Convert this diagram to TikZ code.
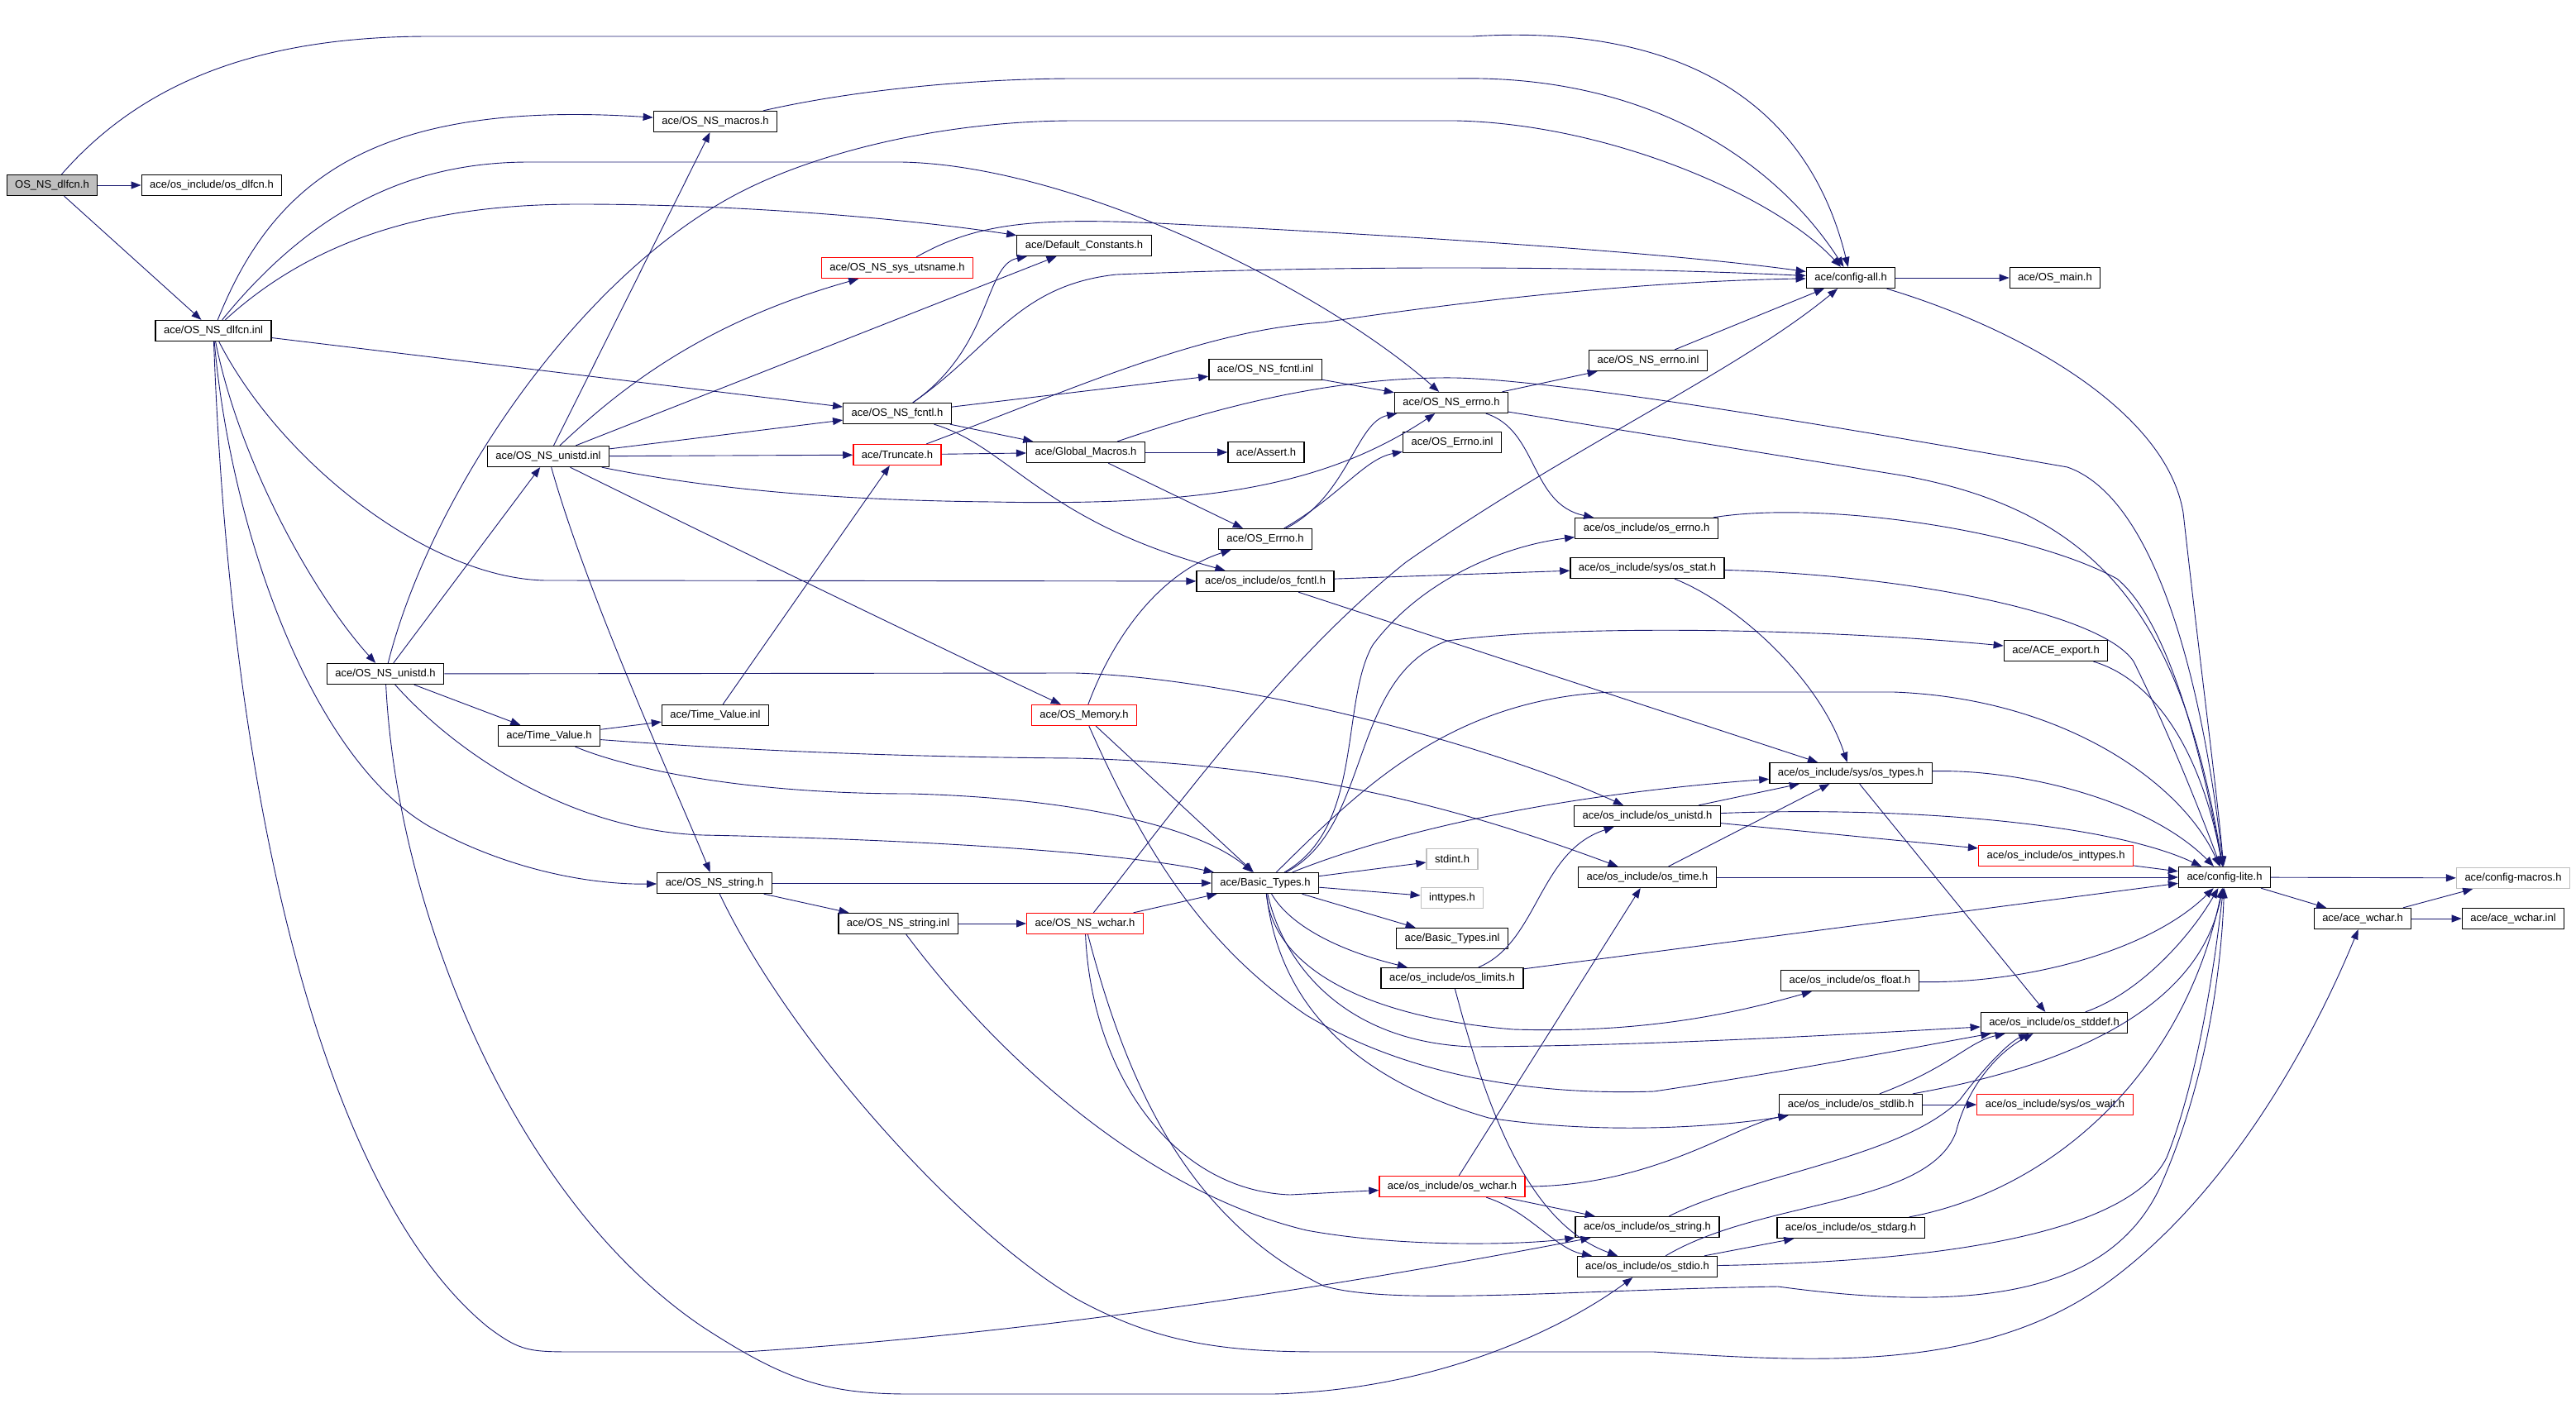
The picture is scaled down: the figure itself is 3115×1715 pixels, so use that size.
\documentclass[tikz,border=0pt]{standalone}
\usepackage{fontspec}
\setmainfont{Liberation Sans}
\usetikzlibrary{arrows.meta}
\definecolor{edgeblue}{HTML}{191970}
\definecolor{boxgrey}{HTML}{BFBFBF}

\begin{document}
\begin{tikzpicture}[x=1pt,y=-1pt,
  font=\fontsize{13}{15}\selectfont,
  box/.style={draw=black,line width=1.3pt,fill=white,minimum height=25pt,inner xsep=10pt,inner ysep=0pt},
  rootbox/.style={box,fill=boxgrey},
  redbox/.style={box,draw=red},
  extbox/.style={box,draw=boxgrey},
  edge/.style={draw=edgeblue,line width=0.9pt,-{Triangle[length=12pt,width=9pt]}}]
  \useasboundingbox (0,0) rectangle (3115,1715);
  % files
  \node[rootbox] (dlfcnh) at (63,224) {OS\_NS\_dlfcn.h};
  \node[box] (osdlfcn) at (256,224) {ace/os\_include/os\_dlfcn.h};
  \node[box] (dlfcninl) at (258,400) {ace/OS\_NS\_dlfcn.inl};
  \node[box] (macros) at (865,147) {ace/OS\_NS\_macros.h};
  \node[box] (defconst) at (1311,297) {ace/Default\_Constants.h};
  \node[redbox] (utsname) at (1085,324) {ace/OS\_NS\_sys\_utsname.h};
  \node[box] (configall) at (2238,336) {ace/config-all.h};
  \node[box] (osmain) at (2485,336) {ace/OS\_main.h};
  \node[box] (fcntlinl) at (1530,447) {ace/OS\_NS\_fcntl.inl};
  \node[box] (errnoinl) at (1993,436) {ace/OS\_NS\_errno.inl};
  \node[box] (errnoh) at (1755,487) {ace/OS\_NS\_errno.h};
  \node[box] (fcntlh) at (1085,500) {ace/OS\_NS\_fcntl.h};
  \node[redbox] (truncate) at (1085,550) {ace/Truncate.h};
  \node[box] (globmac) at (1313,547) {ace/Global\_Macros.h};
  \node[box] (assert) at (1531,547) {ace/Assert.h};
  \node[box] (oserrnoinl) at (1756,535) {ace/OS\_Errno.inl};
  \node[box] (unistdinl) at (663,552) {ace/OS\_NS\_unistd.inl};
  \node[box] (oserrnoh) at (1530,652) {ace/OS\_Errno.h};
  \node[box] (inerrno) at (1991,639) {ace/os\_include/os\_errno.h};
  \node[box] (infcntl) at (1530,703) {ace/os\_include/os\_fcntl.h};
  \node[box] (instat) at (1992,687) {ace/os\_include/sys/os\_stat.h};
  \node[box] (aceexport) at (2486,787) {ace/ACE\_export.h};
  \node[box] (unistdh) at (466,815) {ace/OS\_NS\_unistd.h};
  \node[box] (tvinl) at (865,865) {ace/Time\_Value.inl};
  \node[redbox] (memory) at (1311,865) {ace/OS\_Memory.h};
  \node[box] (tvh) at (664,890) {ace/Time\_Value.h};
  \node[box] (intypes) at (2238,935) {ace/os\_include/sys/os\_types.h};
  \node[box] (inunistd) at (1992,987) {ace/os\_include/os\_unistd.h};
  \node[redbox] (ininttypes) at (2486,1035) {ace/os\_include/os\_inttypes.h};
  \node[extbox] (stdint) at (1756,1039) {stdint.h};
  \node[box] (configlite) at (2690,1061) {ace/config-lite.h};
  \node[extbox] (configmacros) at (3039,1062) {ace/config-macros.h};
  \node[box] (intime) at (1992,1061) {ace/os\_include/os\_time.h};
  \node[box] (basictypes) at (1530,1068) {ace/Basic\_Types.h};
  \node[box] (nsstring) at (864,1068) {ace/OS\_NS\_string.h};
  \node[extbox] (inttypes) at (1756,1086) {inttypes.h};
  \node[box] (acewchar) at (2857,1111) {ace/ace\_wchar.h};
  \node[box] (acewcharinl) at (3039,1111) {ace/ace\_wchar.inl};
  \node[box] (nsstringinl) at (1086,1117) {ace/OS\_NS\_string.inl};
  \node[redbox] (nswchar) at (1312,1117) {ace/OS\_NS\_wchar.h};
  \node[box] (btinl) at (1756,1135) {ace/Basic\_Types.inl};
  \node[box] (inlimits) at (1756,1183) {ace/os\_include/os\_limits.h};
  \node[box] (infloat) at (2237,1186) {ace/os\_include/os\_float.h};
  \node[box] (instddef) at (2484,1237) {ace/os\_include/os\_stddef.h};
  \node[box] (instdlib) at (2238,1336) {ace/os\_include/os\_stdlib.h};
  \node[redbox] (inwait) at (2485,1336) {ace/os\_include/sys/os\_wait.h};
  \node[redbox] (inwchar) at (1756,1435) {ace/os\_include/os\_wchar.h};
  \node[box] (instring) at (1992,1484) {ace/os\_include/os\_string.h};
  \node[box] (instdarg) at (2238,1485) {ace/os\_include/os\_stdarg.h};
  \node[box] (instdio) at (1992,1532) {ace/os\_include/os\_stdio.h};
  % OS_NS_dlfcn.h
  \draw[edge] (dlfcnh) -- (osdlfcn);
  \draw[edge] (dlfcnh) -- (dlfcninl);
  \draw[edge] (dlfcnh) .. controls (180,90) and (330,44) .. (520,44) -- (1780,44) .. controls (2000,30) and (2180,100) .. (configall);
  % OS_NS_dlfcn.inl
  \draw[edge] (dlfcninl) .. controls (330,220) and (450,120) .. (macros);
  \draw[edge] (dlfcninl) .. controls (380,250) and (500,196) .. (640,196) -- (1090,196) .. controls (1300,200) and (1600,350) .. (errnoh);
  \draw[edge] (dlfcninl) .. controls (400,270) and (560,247) .. (700,247) .. controls (900,247) and (1100,265) .. (defconst);
  \draw[edge] (dlfcninl) -- (fcntlh);
  \draw[edge] (dlfcninl) .. controls (290,560) and (380,720) .. (unistdh);
  \draw[edge] (dlfcninl) .. controls (340,560) and (520,700) .. (660,702) -- (infcntl);
  \draw[edge] (dlfcninl) .. controls (280,650) and (380,920) .. (520,1000) .. controls (620,1055) and (720,1070) .. (nsstring);
  \draw[edge] (dlfcninl) .. controls (280,1000) and (400,1450) .. (590,1605) .. controls (630,1635) and (640,1635) .. (700,1635) -- (900,1635) .. controls (1300,1610) and (1700,1540) .. (instring);
  % OS_NS_unistd.h
  \draw[edge] (unistdh) -- (unistdinl);
  \draw[edge] (unistdh) .. controls (520,600) and (700,330) .. (900,230) .. controls (1000,180) and (1150,146) .. (1300,146) -- (1760,146) .. controls (1950,150) and (2150,240) .. (configall);
  \draw[edge] (unistdh) -- (tvh);
  \draw[edge] (unistdh) -- (1300,814) .. controls (1500,820) and (1800,900) .. (inunistd);
  \draw[edge] (unistdh) .. controls (560,920) and (700,1005) .. (850,1010) .. controls (1100,1015) and (1350,1030) .. (basictypes);
  \draw[edge] (unistdh) .. controls (480,1100) and (620,1450) .. (850,1605) .. controls (950,1670) and (1000,1686) .. (1100,1686) -- (1540,1686) .. controls (1750,1680) and (1900,1600) .. (instdio);
  % OS_NS_unistd.inl
  \draw[edge] (unistdinl) -- (macros);
  \draw[edge] (unistdinl) .. controls (750,470) and (850,390) .. (utsname);
  \draw[edge] (unistdinl) -- (defconst);
  \draw[edge] (unistdinl) -- (fcntlh);
  \draw[edge] (unistdinl) -- (truncate);
  \draw[edge] (unistdinl) .. controls (850,590) and (1000,605) .. (1200,607) .. controls (1450,612) and (1600,590) .. (errnoh);
  \draw[edge] (unistdinl) .. controls (800,620) and (1150,790) .. (memory);
  \draw[edge] (unistdinl) .. controls (710,720) and (820,960) .. (nsstring);
  % Time_Value
  \draw[edge] (tvh) -- (tvinl);
  \draw[edge] (tvh) .. controls (800,900) and (1000,915) .. (1300,917) .. controls (1600,925) and (1800,990) .. (intime);
  \draw[edge] (tvh) .. controls (760,930) and (900,960) .. (1100,960) .. controls (1300,965) and (1450,1000) .. (basictypes);
  \draw[edge] (tvinl) -- (truncate);
  % ace headers
  \draw[edge] (macros) .. controls (1050,105) and (1200,95) .. (1300,95) -- (1760,95) .. controls (2000,90) and (2150,200) .. (configall);
  \draw[edge] (utsname) .. controls (1180,270) and (1250,263) .. (1400,270) .. controls (1800,290) and (2050,310) .. (configall);
  \draw[edge] (fcntlh) .. controls (1200,420) and (1230,345) .. (1350,332) .. controls (1700,318) and (2000,325) .. (configall);
  \draw[edge] (fcntlh) .. controls (1200,420) and (1190,320) .. (defconst);
  \draw[edge] (fcntlh) -- (fcntlinl);
  \draw[edge] (fcntlh) -- (globmac);
  \draw[edge] (fcntlh) .. controls (1220,540) and (1260,630) .. (infcntl);
  \draw[edge] (truncate) -- (globmac);
  \draw[edge] (truncate) .. controls (1300,470) and (1450,400) .. (1600,390) .. controls (1800,360) and (2000,340) .. (configall);
  \draw[edge] (globmac) -- (assert);
  \draw[edge] (globmac) -- (oserrnoh);
  \draw[edge] (globmac) .. controls (1450,500) and (1600,455) .. (1760,457) .. controls (1900,460) and (2300,530) .. (2500,565) .. controls (2600,600) and (2660,800) .. (configlite);
  \draw[edge] (fcntlinl) -- (errnoh);
  \draw[edge] (errnoh) -- (errnoinl);
  \draw[edge] (errnoh) .. controls (1860,520) and (1850,610) .. (inerrno);
  \draw[edge] (errnoh) -- (2300,575) .. controls (2550,620) and (2640,760) .. (configlite);
  \draw[edge] (errnoinl) -- (configall);
  \draw[edge] (oserrnoh) .. controls (1630,600) and (1640,510) .. (errnoh);
  \draw[edge] (oserrnoh) .. controls (1620,600) and (1650,555) .. (oserrnoinl);
  \draw[edge] (memory) .. controls (1350,760) and (1410,690) .. (oserrnoh);
  \draw[edge] (memory) -- (basictypes);
  \draw[edge] (memory) .. controls (1380,1020) and (1450,1140) .. (1580,1228) .. controls (1700,1300) and (1850,1325) .. (2000,1320) .. controls (2200,1290) and (2350,1260) .. (instddef);
  \draw[edge] (configall) -- (osmain);
  \draw[edge] (configall) .. controls (2450,400) and (2620,500) .. (2640,620) .. controls (2660,800) and (2680,950) .. (configlite);
  % os_include
  \draw[edge] (infcntl) -- (instat);
  \draw[edge] (infcntl) -- (intypes);
  \draw[edge] (instat) .. controls (2100,730) and (2200,820) .. (intypes);
  \draw[edge] (instat) .. controls (2300,695) and (2540,740) .. (2580,800) .. controls (2620,880) and (2660,980) .. (configlite);
  \draw[edge] (inerrno) .. controls (2200,605) and (2450,640) .. (2560,700) .. controls (2620,750) and (2660,900) .. (configlite);
  \draw[edge] (aceexport) .. controls (2600,820) and (2660,900) .. (configlite);
  % Basic_Types.h
  \draw[edge] (basictypes) .. controls (1660,1000) and (1630,820) .. (1750,775) .. controls (1900,755) and (2200,760) .. (aceexport);
  \draw[edge] (basictypes) .. controls (1650,1000) and (1620,850) .. (1660,780) .. controls (1720,700) and (1820,660) .. (inerrno);
  \draw[edge] (basictypes) .. controls (1640,960) and (1750,845) .. (1950,837) -- (2290,837) .. controls (2500,845) and (2640,950) .. (configlite);
  \draw[edge] (basictypes) .. controls (1700,1000) and (1900,960) .. (intypes);
  \draw[edge] (basictypes) -- (stdint);
  \draw[edge] (basictypes) -- (inttypes);
  \draw[edge] (basictypes) -- (btinl);
  \draw[edge] (basictypes) .. controls (1560,1120) and (1620,1150) .. (inlimits);
  \draw[edge] (basictypes) .. controls (1540,1170) and (1650,1230) .. (1830,1245) .. controls (1990,1250) and (2100,1225) .. (infloat);
  \draw[edge] (basictypes) .. controls (1550,1160) and (1620,1260) .. (1780,1266) .. controls (2000,1265) and (2250,1250) .. (instddef);
  \draw[edge] (basictypes) .. controls (1545,1200) and (1620,1300) .. (1800,1352) .. controls (1950,1375) and (2100,1360) .. (instdlib);
  \draw[edge] (intypes) .. controls (2450,930) and (2600,970) .. (configlite);
  \draw[edge] (intypes) -- (instddef);
  \draw[edge] (inunistd) -- (intypes);
  \draw[edge] (inunistd) .. controls (2300,975) and (2550,995) .. (configlite);
  \draw[edge] (inunistd) -- (ininttypes);
  \draw[edge] (ininttypes) -- (configlite);
  \draw[edge] (intime) -- (configlite);
  \draw[edge] (intime) -- (intypes);
  \draw[edge] (inlimits) .. controls (1860,1140) and (1860,1030) .. (inunistd);
  \draw[edge] (inlimits) -- (configlite);
  \draw[edge] (inlimits) .. controls (1800,1350) and (1850,1480) .. (instdio);
  \draw[edge] (infloat) .. controls (2450,1190) and (2600,1150) .. (configlite);
  \draw[edge] (instddef) .. controls (2590,1200) and (2650,1130) .. (configlite);
  \draw[edge] (instdlib) .. controls (2360,1290) and (2380,1260) .. (instddef);
  \draw[edge] (instdlib) .. controls (2500,1290) and (2660,1220) .. (configlite);
  \draw[edge] (instdlib) -- (inwait);
  \draw[edge] (inwchar) -- (intime);
  \draw[edge] (inwchar) .. controls (2000,1435) and (2100,1360) .. (instdlib);
  \draw[edge] (inwchar) -- (instring);
  \draw[edge] (inwchar) .. controls (1850,1465) and (1880,1510) .. (instdio);
  \draw[edge] (instring) .. controls (2120,1420) and (2300,1400) .. (2370,1330) .. controls (2400,1290) and (2430,1260) .. (instddef);
  \draw[edge] (instdio) -- (instdarg);
  \draw[edge] (instdio) .. controls (2130,1450) and (2330,1460) .. (2365,1370) .. controls (2380,1310) and (2420,1270) .. (instddef);
  \draw[edge] (instdio) .. controls (2400,1525) and (2580,1480) .. (2620,1400) .. controls (2660,1300) and (2680,1150) .. (configlite);
  \draw[edge] (instdarg) .. controls (2480,1440) and (2640,1300) .. (configlite);
  % config-lite.h
  \draw[edge] (configlite) -- (configmacros);
  \draw[edge] (configlite) -- (acewchar);
  \draw[edge] (acewchar) -- (configmacros);
  \draw[edge] (acewchar) -- (acewcharinl);
  % string and wchar
  \draw[edge] (nsstring) -- (basictypes);
  \draw[edge] (nsstring) -- (nsstringinl);
  \draw[edge] (nsstring) .. controls (950,1250) and (1150,1480) .. (1300,1570) .. controls (1400,1625) and (1480,1635) .. (1600,1635) -- (2000,1635) .. controls (2200,1648) and (2400,1660) .. (2550,1550) .. controls (2700,1440) and (2800,1250) .. (acewchar);
  \draw[edge] (nsstringinl) -- (nswchar);
  \draw[edge] (nsstringinl) .. controls (1200,1270) and (1380,1440) .. (1580,1488) .. controls (1700,1510) and (1850,1505) .. (instring);
  \draw[edge] (nswchar) -- (basictypes);
  \draw[edge] (nswchar) .. controls (1420,980) and (1550,800) .. (1700,680) .. controls (1900,540) and (2100,450) .. (configall);
  \draw[edge] (nswchar) .. controls (1320,1300) and (1420,1440) .. (1560,1445) -- (inwchar);
  \draw[edge] (nswchar) .. controls (1360,1300) and (1430,1470) .. (1600,1555) .. controls (1680,1580) and (1900,1560) .. (2150,1556) .. controls (2400,1590) and (2550,1560) .. (2610,1440) .. controls (2660,1330) and (2685,1200) .. (configlite);
\end{tikzpicture}
\end{document}
